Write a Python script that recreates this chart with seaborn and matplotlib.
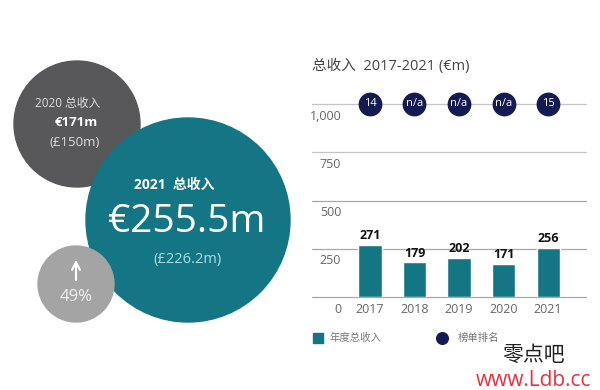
import matplotlib
matplotlib.use("Agg")
import matplotlib.pyplot as plt
import matplotlib.transforms as mtransforms
from matplotlib.patches import Circle
import seaborn as sns
import pandas as pd

# Data
years = ["2017", "2018", "2019", "2020", "2021"]
revenue = [271, 179, 202, 171, 256]
ranks = ["14", "n/a", "n/a", "n/a", "15"]
rank_row = 1000
y_ticks = [0, 250, 500, 750, 1000]
y_tick_labels = ["0", "250", "500", "750", "1,000"]

teal = "#147584"
navy = "#141b52"
dark_grey = "#58585a"
light_grey = "#a4a4a4"

sns.set_theme(style="white")
plt.rcParams["font.family"] = ["Open Sans", "Noto Sans CJK SC", "DejaVu Sans"]

fig = plt.figure(figsize=(6, 3.9), dpi=100)
fig.patch.set_facecolor("white")

# ---- left side: bubbles, in pixel coords ----
bg = fig.add_axes([0, 0, 1, 1])
bg.set_xlim(0, 600)
bg.set_ylim(390, 0)
bg.axis("off")

bg.add_patch(Circle((77, 124), 63, color=dark_grey, zorder=1))
bg.add_patch(Circle((188, 220), 102, color=teal, zorder=2))
bg.add_patch(Circle((76, 284), 38, color=light_grey, zorder=3))

bg.text(68, 103, "2020 总收入", color="#dddddd", fontsize=8.5, ha="center", va="center", zorder=5)
bg.text(76, 123, "€171m", color="white", fontsize=9.5, fontweight="bold", ha="center", va="center", zorder=5)
bg.text(75, 143, "(£150m)", color="#dddddd", fontsize=9.5, ha="center", va="center", zorder=5)

bg.text(174, 185, "2021  总收入", color="white", fontsize=10, fontweight="bold", ha="center", va="center", zorder=5)
bg.text(187, 222, "€255.5m", color="white", fontsize=28, ha="center", va="center", zorder=5)
bg.text(187, 260, "(£226.2m)", color="#a9dfe8", fontsize=10.5, ha="center", va="center", zorder=5)

bg.annotate("", xy=(76, 257), xytext=(76, 283),
            arrowprops=dict(arrowstyle="->", color="white", lw=1.5, mutation_scale=14), zorder=5)
bg.text(76, 297, "49%", color="#f2f2f2", fontsize=12, ha="center", va="center", zorder=5)

# title and legend
bg.text(312, 66, "总收入  2017-2021 (€m)", color="#444444", fontsize=10.5, ha="left", va="center")
bg.scatter([318], [338], marker="s", s=60, color=teal)
bg.text(330, 338, "年度总收入", color="#777777", fontsize=7.5, ha="left", va="center")
bg.scatter([442], [338], marker="o", s=70, color=navy)
bg.text(458, 338, "榜单排名", color="#777777", fontsize=7.5, ha="left", va="center")

# watermark
bg.text(534, 355, "零点吧", color="#222222", fontsize=15, ha="center", va="center",
        family=["Noto Sans CJK SC"])
bg.text(534, 381, "www.Ldb.cc", color="#e8313b", fontsize=15, ha="center", va="center")

# ---- right side: bar chart ----
ax = fig.add_axes([312 / 600, 93 / 390, 274 / 600, 193 / 390])
ax.set_facecolor("none")
df = pd.DataFrame({"year": years, "revenue": revenue})
sns.barplot(data=df, x="year", y="revenue", color=teal, width=0.52, saturation=1, ax=ax, zorder=3)

ax.set_xlim(-1.3, 4.85)
ax.set_ylim(0, 1000)
ax.set_yticks(y_ticks)
ax.set_yticklabels(y_tick_labels)
for t in y_ticks:
    ax.axhline(t, color="#c4c4c4" if t > 500 else "#a8a8a8", lw=0.9, zorder=1, clip_on=False)

for s in ax.spines.values():
    s.set_visible(False)
ax.tick_params(axis="both", length=0, colors="#666666", labelsize=9)
ax.tick_params(axis="y", pad=-21)
offset = mtransforms.ScaledTranslation(0, -4 / 72, fig.dpi_scale_trans)
for lbl in ax.get_yticklabels():
    lbl.set_va("top")
    lbl.set_ha("right")
    lbl.set_transform(lbl.get_transform() + offset)
ax.tick_params(axis="x", pad=4)
ax.set_xlabel("")
ax.set_ylabel("")

for i, v in enumerate(revenue):
    ax.text(i, v + 14, str(v), ha="center", va="bottom", fontsize=9, fontweight="bold", color="#111111")

ax.scatter(range(len(years)), [rank_row] * len(years), s=260, color=navy, zorder=4, clip_on=False)
for i, r in enumerate(ranks):
    ax.text(i, rank_row, r, ha="center", va="center", color="white", fontsize=8, zorder=5)

fig.savefig("out.png", dpi=100)
